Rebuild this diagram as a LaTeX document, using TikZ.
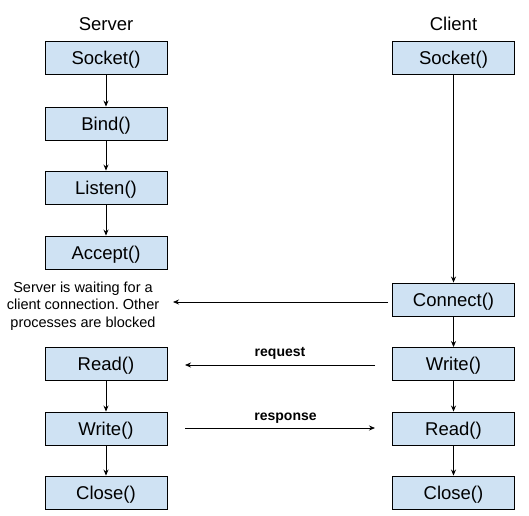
\documentclass[tikz,border=0pt]{standalone}
\usepackage{fontspec}
\setmainfont{Liberation Sans}
\usetikzlibrary{arrows.meta}
\definecolor{boxblue}{HTML}{CFE2F3}
\frenchspacing
\begin{document}
\begin{tikzpicture}[x=1pt,y=-1pt,
  fn/.style={draw=black,line width=0.9pt,fill=boxblue,minimum width=122pt,minimum height=33pt,inner sep=0pt,text height=15pt,text depth=1.5pt,font=\fontsize{18.5}{22}\selectfont},
  head/.style={font=\fontsize{18.5}{22}\selectfont,inner sep=0pt},
  conn/.style={line width=0.8pt,-{Stealth[length=6pt,width=5pt]}},
  lbl/.style={font=\bfseries\fontsize{14}{16}\selectfont,inner sep=0pt}]
\useasboundingbox (0,0) rectangle (529,515);
% headers
\node[head] (hs) at (106,24) {Server};
\node[head] (hc) at (453.5,24) {Client};
% server column
\node[fn] (s1) at (106,57.5) {Socket()};
\node[fn] (s2) at (106,123.5) {Bind()};
\node[fn] (s3) at (106,187.5) {Listen()};
\node[fn] (s4) at (106,252.5) {Accept()};
\node[fn] (s5) at (106,364) {Read()};
\node[fn] (s6) at (106,428.5) {Write()};
\node[fn] (s7) at (106,492.5) {Close()};
% client column
\node[fn] (c1) at (453.5,57.5) {Socket()};
\node[fn] (c2) at (453.5,299.5) {Connect()};
\node[fn] (c3) at (453.5,364) {Write()};
\node[fn] (c4) at (453.5,428.5) {Read()};
\node[fn] (c5) at (453.5,492.5) {Close()};
% note
\node[align=center,inner sep=0pt,font=\fontsize{14.5}{17.5}\selectfont] (wait) at (83,306)
  {Server is waiting for a\\client connection. Other\\processes are blocked};
% vertical connectors
\draw[conn] (s1) -- (s2);
\draw[conn] (s2) -- (s3);
\draw[conn] (s3) -- (s4);
\draw[conn] (s5) -- (s6);
\draw[conn] (s6) -- (s7);
\draw[conn] (c1) -- (c2);
\draw[conn] (c2) -- (c3);
\draw[conn] (c3) -- (c4);
\draw[conn] (c4) -- (c5);
% horizontal connectors
\coordinate (ca) at (388,302);
\coordinate (wa) at (173,302);
\draw[conn] (ca) -- (wa);
\coordinate (rq1) at (375,365);
\coordinate (rq2) at (185,365);
\draw[conn] (rq1) -- (rq2);
\coordinate (rs1) at (185,428);
\coordinate (rs2) at (375,428);
\draw[conn] (rs1) -- (rs2);
\node[lbl] (lreq) at (280,353) {request};
\node[lbl] (lres) at (285.5,418) {response};
\end{tikzpicture}
\end{document}
